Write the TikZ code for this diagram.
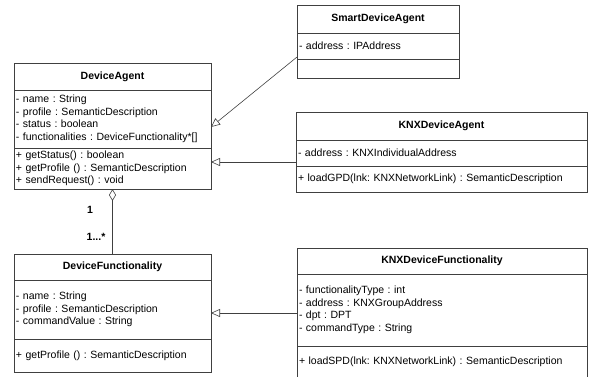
\documentclass[tikz,border=0pt]{standalone}
\usepackage{fontspec}
\setmainfont{Liberation Sans}
\usetikzlibrary{arrows.meta, shapes.multipart, positioning}

\newcommand{\umlfont}{\fontsize{10.5}{12.5}\selectfont\frenchspacing}

\tikzset{
  box/.style={draw=black!75, line width=0.6pt, outer sep=0pt, inner ysep=0pt, font=\umlfont},
  classname/.style={box, font=\umlfont\bfseries, align=center},
  members/.style={box, inner xsep=2pt, align=left},
  inherits/.style={draw=black!75, line width=0.6pt, -{Triangle[open, length=9pt, width=8pt]}},
  aggregates/.style={draw=black!75, line width=0.6pt, {Diamond[open, length=12pt, width=7pt]}-},
  mult/.style={font=\umlfont\bfseries, inner sep=0pt}
}

\begin{document}
\begin{tikzpicture}[x=1pt, y=-1pt]
  \useasboundingbox (0,0) rectangle (591,376);

  % DeviceAgent
  \node (da) [classname, anchor=north west, minimum width=197pt, minimum height=27pt] at (14,63) {DeviceAgent};
  \node (da-attr) [members, below=0pt of da, text width=193pt, minimum height=58pt]
    {- name : String\\- profile : SemanticDescription\\- status : boolean\\- functionalities : DeviceFunctionality*[]};
  \node (da-ops) [members, below=0pt of da-attr, text width=193pt, minimum height=41pt]
    {+ getStatus() : boolean\\+ getProfile () : SemanticDescription\\+ sendRequest() : void};

  % SmartDeviceAgent
  \node (sda) [classname, anchor=north west, minimum width=162pt, minimum height=28pt] at (297,5) {SmartDeviceAgent};
  \node (sda-attr) [members, below=0pt of sda, text width=158pt, minimum height=26pt] {- address : IPAddress};
  \node (sda-ops) [members, below=0pt of sda-attr, text width=158pt, minimum height=19pt] {};

  % KNXDeviceAgent
  \node (knxa) [classname, anchor=north west, minimum width=291pt, minimum height=28pt] at (296,112) {KNXDeviceAgent};
  \node (knxa-attr) [members, below=0pt of knxa, text width=287pt, minimum height=26pt] {- address : KNXIndividualAddress};
  \node (knxa-ops) [members, below=0pt of knxa-attr, text width=287pt, minimum height=26pt]
    {+ loadGPD(lnk: KNXNetworkLink) : SemanticDescription};

  % DeviceFunctionality
  \node (df) [classname, anchor=north west, minimum width=197pt, minimum height=26pt] at (14,254) {DeviceFunctionality};
  \node (df-attr) [members, below=0pt of df, text width=193pt, minimum height=59pt]
    {- name : String\\- profile : SemanticDescription\\- commandValue : String};
  \node (df-ops) [members, below=0pt of df-attr, text width=193pt, minimum height=33pt]
    {+ getProfile () : SemanticDescription};

  % KNXDeviceFunctionality
  \node (kdf) [classname, anchor=north west, minimum width=290pt, minimum height=26pt] at (297,248) {KNXDeviceFunctionality};
  \node (kdf-attr) [members, below=0pt of kdf, text width=286pt, minimum height=72pt]
    {- functionalityType : int\\- address : KNXGroupAddress\\- dpt : DPT\\- commandType : String};
  \node (kdf-ops) [members, below=0pt of kdf-attr, text width=286pt, minimum height=32pt]
    {+ loadSPD(lnk: KNXNetworkLink) : SemanticDescription};

  % multiplicities
  \node (one) [mult] at (90,210) {1};
  \node (many) [mult] at (96,237) {1...*};

  \coordinate (knxa-in) at ([yshift=4pt]knxa-attr.south west);
  \coordinate (kdf-in) at ([yshift=-3pt]kdf-attr.west);

  \path ([yshift=2pt]sda-attr.south west) edge[inherits] ([yshift=-8pt]da-attr.east)
        (knxa-in) edge[inherits] (knxa-in -| da-ops.east)
        (kdf-in) edge[inherits] (kdf-in -| df-attr.east);

  \path (da-ops.south) edge[aggregates] (df.north);
\end{tikzpicture}
\end{document}
